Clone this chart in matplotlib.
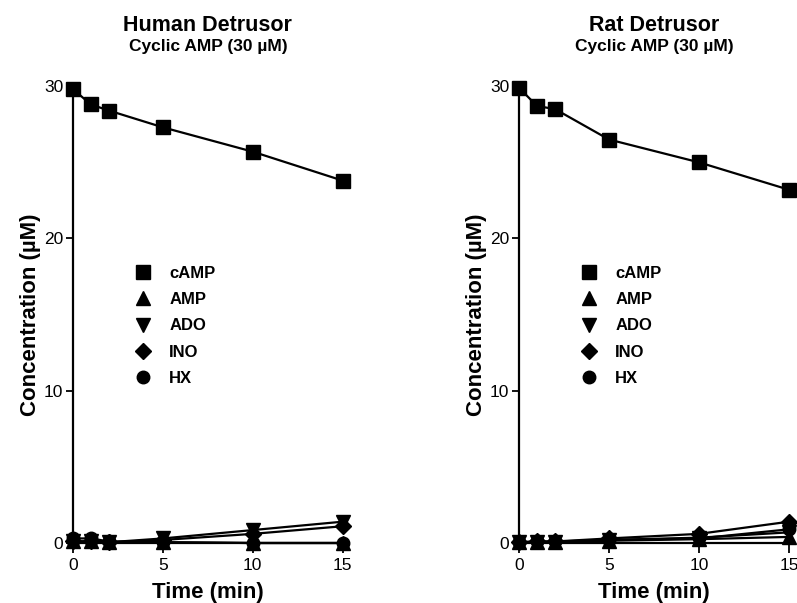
import matplotlib
matplotlib.use("Agg")
import matplotlib.pyplot as plt

plt.rcParams['font.family'] = ['Liberation Sans', 'DejaVu Sans']

# Time points (min)
t = [0, 1, 2, 5, 10, 15]

# Human detrusor
h_camp = [29.8, 28.8, 28.4, 27.3, 25.7, 23.8]
h_amp = [0.1, 0.1, 0.05, 0.05, 0.0, 0.0]
h_ado = [0.1, 0.1, 0.05, 0.3, 0.85, 1.4]
h_ino = [0.1, 0.1, 0.05, 0.2, 0.6, 1.1]
h_hx = [0.3, 0.3, 0.1, 0.05, 0.0, 0.0]

# Rat detrusor
r_camp = [29.9, 28.7, 28.5, 26.5, 25.0, 23.2]
r_amp = [0.05, 0.05, 0.05, 0.15, 0.25, 0.4]
r_ado = [0.05, 0.05, 0.05, 0.2, 0.35, 0.7]
r_ino = [0.05, 0.1, 0.1, 0.3, 0.6, 1.4]
r_hx = [0.05, 0.1, 0.1, 0.2, 0.3, 0.9]

names = ['cAMP', 'AMP', 'ADO', 'INO', 'HX']
markers = ['s', '^', 'v', 'D', 'o']
msizes = [10, 10, 10, 8, 9]

fig = plt.figure(figsize=(7.97, 6.03), dpi=100)
ax1 = fig.add_axes([0.0916, 0.0995, 0.3384, 0.7575])
ax2 = fig.add_axes([0.6512, 0.0995, 0.3388, 0.7575])

panels = [
    (ax1, 'Human Detrusor', [h_camp, h_amp, h_ado, h_ino, h_hx]),
    (ax2, 'Rat Detrusor', [r_camp, r_amp, r_ado, r_ino, r_hx]),
]

for ax, title, series in panels:
    for vals, name, m, ms in zip(series, names, markers, msizes):
        ax.plot(t, vals, color='black', lw=1.6, marker=m, ms=ms,
                clip_on=False, label=name, zorder=3)
    ax.set_xlim(0, 15)
    ax.set_ylim(0, 30)
    ax.set_xticks([0, 5, 10, 15])
    ax.set_yticks([0, 10, 20, 30])
    for s in ['top', 'right']:
        ax.spines[s].set_visible(False)
    ax.spines['left'].set_linewidth(1.6)
    ax.spines['bottom'].set_linewidth(1.6)
    ax.tick_params(axis='both', labelsize=12.5, width=1.3, length=5, pad=2)
    ax.tick_params(axis='x', length=7, pad=4)
    for lab in ax.get_xticklabels() + ax.get_yticklabels():
        lab.set_family(['Liberation Sans Narrow', 'Liberation Sans'])
    ax.set_xlabel('Time (min)', fontsize=16, fontweight='bold', labelpad=6)
    ax.set_ylabel('Concentration (µM)', fontsize=16, fontweight='bold', labelpad=2)
    ax.text(0.5, 1.134, title, transform=ax.transAxes, ha='center', va='center',
            fontsize=15.5, fontweight='bold')
    ax.text(0.5, 1.086, 'Cyclic AMP (30 µM)', transform=ax.transAxes, ha='center',
            va='center', fontsize=12.5, fontweight='bold')
    leg_handles = [plt.Line2D([], [], ls='none', color='black', marker=m, ms=ms)
                   for m, ms in zip(markers, msizes)]
    ax.legend(leg_handles, names, loc='upper left', bbox_to_anchor=(0.165, 0.64),
              frameon=False, prop={'weight': 'bold', 'size': 12},
              handletextpad=1.0, labelspacing=0.68, handlelength=1.2)

fig.savefig('out.png', dpi=100)
